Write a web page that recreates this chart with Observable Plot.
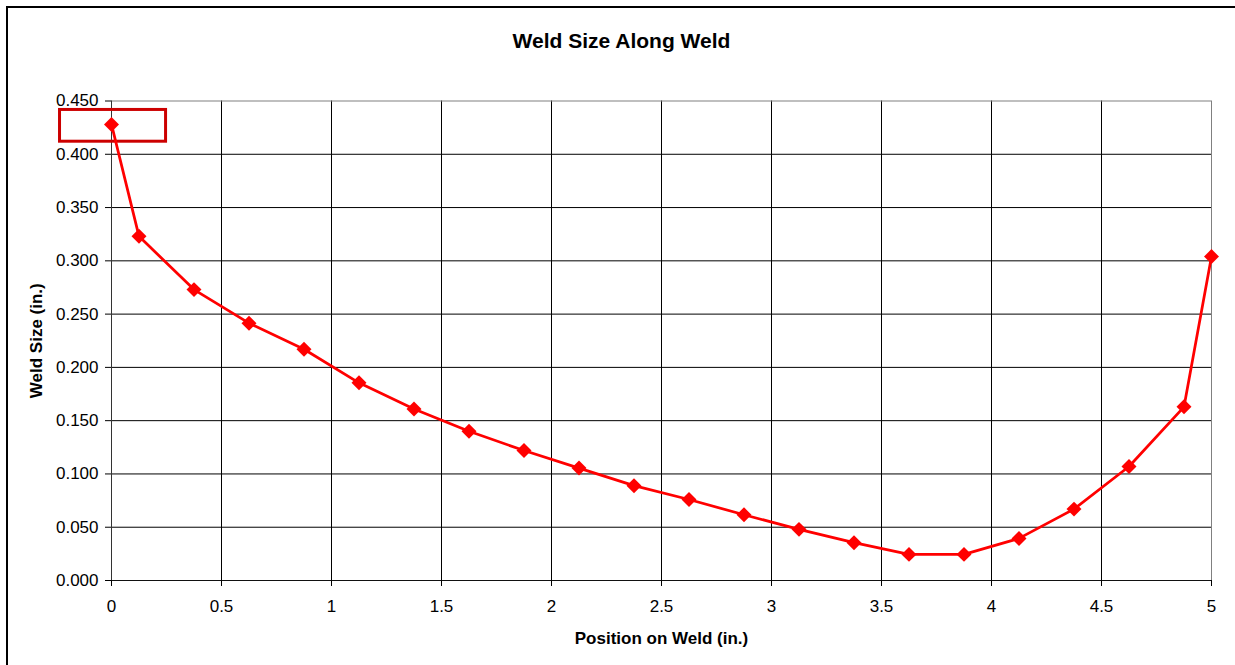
<!DOCTYPE html>
<html>
<head>
<meta charset="utf-8">
<script src="https://cdn.jsdelivr.net/npm/d3@7"></script>
<script src="https://cdn.jsdelivr.net/npm/@observablehq/plot@0.6"></script>
<style>
  html, body { margin: 0; padding: 0; background: #fff; width: 1235px; height: 665px; overflow: hidden; }
  #frame { position: absolute; left: 6px; top: 6px; width: 1260px; height: 700px; border: 2px solid #000; box-sizing: border-box; }
  #title { position: absolute; left: 0; top: 30px; width: 1243px; text-align: center; font: bold 21px "Liberation Sans", Arial, sans-serif; line-height: 21px; color: #000; }
  #chart { position: absolute; left: 0; top: 60px; }
</style>
</head>
<body>
<div id="frame"></div>
<div id="title">Weld Size Along Weld</div>
<div id="chart"></div>
<script>
// Data
const positions = [0, 0.125, 0.375, 0.625, 0.875, 1.125, 1.375, 1.625, 1.875, 2.125, 2.375, 2.625, 2.875, 3.125, 3.375, 3.625, 3.875, 4.125, 4.375, 4.625, 4.875, 5];
const weldSizes = [0.428, 0.323, 0.273, 0.2415, 0.217, 0.1855, 0.161, 0.140, 0.122, 0.1055, 0.089, 0.076, 0.0617, 0.048, 0.0355, 0.0245, 0.0245, 0.0395, 0.067, 0.107, 0.163, 0.304];
const xTicks = [0, 0.5, 1, 1.5, 2, 2.5, 3, 3.5, 4, 4.5, 5];
const yTicks = [0, 0.05, 0.1, 0.15, 0.2, 0.25, 0.3, 0.35, 0.4, 0.45];
// Highlight box annotation around the first value (data units)
const highlightBox = [{x1: -0.234, x2: 0.248, y1: 0.4118, y2: 0.4416}];
const xLabel = "Position on Weld (in.)";
const yLabel = "Weld Size (in.)";

const data = positions.map((x, i) => ({x, y: weldSizes[i]}));

const diamond = {
  draw(context, size) {
    const h = Math.sqrt(size / Math.PI) * 1.15;
    context.moveTo(0, -h);
    context.lineTo(h, 0);
    context.lineTo(0, h);
    context.lineTo(-h, 0);
    context.closePath();
  }
};

const chart = Plot.plot({
  width: 1235,
  height: 605,
  marginLeft: 111,
  marginRight: 24,
  marginTop: 40.5,
  marginBottom: 85,
  style: {fontFamily: "'Liberation Sans', Arial, sans-serif", fontSize: "17px", color: "#000", background: "transparent", overflow: "visible"},
  x: {domain: [0, 5]},
  y: {domain: [0, 0.45]},
  marks: [
    Plot.gridX(xTicks.slice(1, -1), {stroke: "#000", strokeOpacity: 1}),
    Plot.gridY(yTicks.slice(1, -1), {stroke: "#000", strokeOpacity: 1}),
    Plot.frame({stroke: "#808080"}),
    Plot.ruleX([0], {stroke: "#333"}),
    Plot.ruleY([0], {stroke: "#111"}),
    Plot.axisX({ticks: xTicks, tickSize: 6, tickPadding: 13, tickFormat: d => String(d), label: null, stroke: "#000"}),
    Plot.axisY({ticks: yTicks, tickSize: 6, tickPadding: 7, tickFormat: d3.format(".3f"), label: null, stroke: "#000"}),
    Plot.rect(highlightBox, {x1: "x1", x2: "x2", y1: "y1", y2: "y2", fill: "none", stroke: "#cc0000", strokeWidth: 3}),
    Plot.line(data, {x: "x", y: "y", stroke: "#ff0000", strokeWidth: 2.75}),
    Plot.dot(data, {x: "x", y: "y", symbol: diamond, r: 6.5, fill: "#ff0000", stroke: "none"}),
    Plot.text([xLabel], {text: d => d, frameAnchor: "bottom", dy: 57.6, fontWeight: "bold", fontSize: 17, textAnchor: "middle", lineAnchor: "middle", fill: "#000"}),
    Plot.text([yLabel], {text: d => d, frameAnchor: "left", dx: -75.4, rotate: -90, fontWeight: "bold", fontSize: 17, textAnchor: "middle", lineAnchor: "middle", fill: "#000"})
  ]
});
document.getElementById("chart").appendChild(chart);
</script>
</body>
</html>
